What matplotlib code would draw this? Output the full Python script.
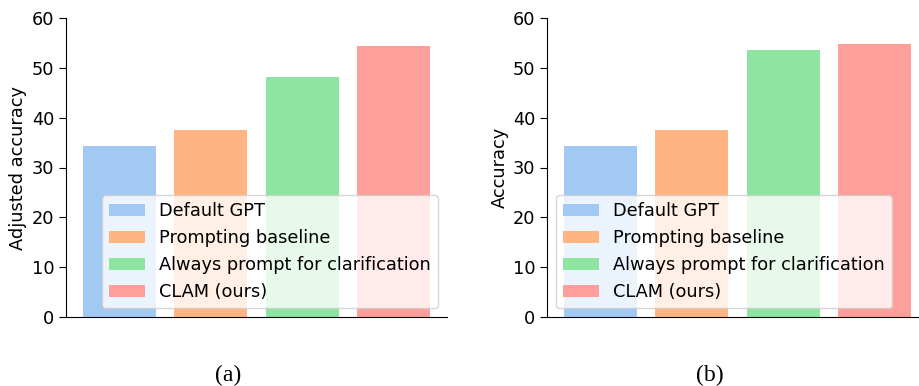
import numpy as np
import matplotlib
matplotlib.use("Agg")
import matplotlib.pyplot as plt

methods = ["Default GPT", "Prompting baseline", "Always prompt for clarification", "CLAM (ours)"]
colors = ["#a1c9f4", "#ffb482", "#8de5a1", "#ff9f9b"]

adjusted_acc = [34.3, 37.5, 48.2, 54.4]
acc = [34.3, 37.5, 53.6, 54.8]

plt.rcParams['font.size'] = 12.8
plt.rcParams['ytick.major.size'] = 5

fig = plt.figure(figsize=(9.19, 3.86), dpi=100)

ax1 = fig.add_axes([66/919, 1-317/386, 381/919, 299/386])
ax2 = fig.add_axes([547/919, 1-317/386, 381/919, 299/386])

def draw(ax, vals, ylabel, loc):
    x = np.arange(len(vals))
    for i in range(0, len(vals)):
        ax.bar(x[i], vals[i], width=0.8, color=colors[i], label=methods[i])
    ax.set_ylim(0, 60)
    ax.set_xticks([])
    ax.set_ylabel(ylabel, labelpad=3)
    ax.spines['top'].set_visible(False)
    ax.spines['right'].set_visible(False)
    ax.legend(loc=loc, fontsize=12.8)

draw(ax1, adjusted_acc, "Adjusted accuracy", "lower right")
draw(ax2, acc, "Accuracy", "lower left")

fig.text(228/919, 1-375/386, "(a)", ha="center", va="center", family="Liberation Serif", fontsize=17)
fig.text(710/919, 1-375/386, "(b)", ha="center", va="center", family="Liberation Serif", fontsize=17)

fig.savefig("out.png", dpi=100)
